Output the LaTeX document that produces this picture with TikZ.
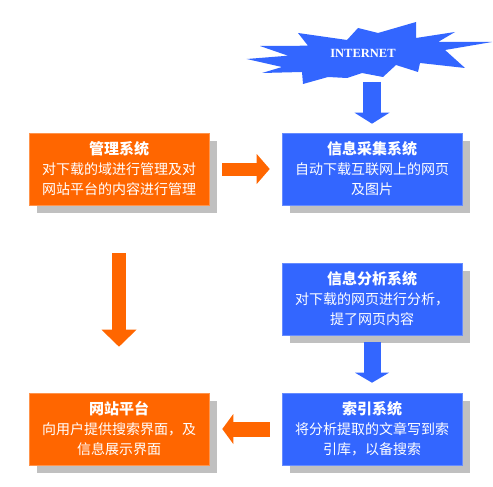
\documentclass[tikz,border=0pt]{standalone}
\usepackage{fontspec}
\setmainfont{Noto Sans CJK SC}
\newfontfamily\latinserif{Liberation Serif}
\usetikzlibrary{arrows.meta,shadows}
\definecolor{orng}{HTML}{FF6600}
\definecolor{blu}{HTML}{3366FF}
\definecolor{shd}{HTML}{C0C0C0}
\newcommand{\ttl}[1]{{\fontsize{15}{20}\selectfont\bfseries #1}}
\begin{document}
\begin{tikzpicture}[x=1pt,y=-1pt,
  box/.style={minimum width=180pt,minimum height=72pt,inner sep=0pt,align=center,
    text=white,font=\fontsize{14}{20}\selectfont,line width=0.6pt,
    general shadow={shadow xshift=8pt,shadow yshift=-8pt,fill=shd}},
  obox/.style={box,fill=orng,draw=orng!70!white},
  bbox/.style={box,fill=blu,draw=blu!75!white},
  fat/.style n args={3}{line width=#1,-{Triangle[width=#2,length=#3,line width=0pt]}}]
\useasboundingbox (0,0) rectangle (493,487);
% starburst
\fill[blu] (246.7,59) -- (288,55.7) -- (260,46) -- (308,45.7) -- (298,33) -- (347,40)
  -- (358,28) -- (378,33) -- (416,22) -- (416,38) -- (455,32) -- (438,42) -- (492,42)
  -- (445,50) -- (465,68) -- (420,63) -- (418,72) -- (396,65) -- (383,77) -- (362,73)
  -- (347,78) -- (328,77) -- (303,84) -- (302,72) -- (262,73) -- (282,67) -- cycle;
\node[text=white,font=\latinserif\bfseries\fontsize{12.5}{15}\selectfont] (inettext) at (363,53) {INTERNET};
\coordinate (inet) at (372,82);
% boxes
\node[obox] (mgmt) at (119,169) {\ttl{管理系统}\\对下载的域进行管理及对\\网站平台的内容进行管理};
\node[bbox] (collect) at (372,169) {\ttl{信息采集系统}\\自动下载互联网上的网页\\及图片};
\node[bbox] (analysis) at (372,299) {\ttl{信息分析系统}\\对下载的网页进行分析，\\提了网页内容};
\node[bbox] (index) at (372,429) {\ttl{索引系统}\\将分析提取的文章写到索\\引库，以备搜索};
\node[obox] (web) at (119,429) {\ttl{网站平台}\\向用户提供搜索界面，及\\信息展示界面};
% arrows
\draw[fat={18pt}{35pt}{11pt},draw=blu,fill=blu,shorten >=9pt] (inet) -- (collect.north);
\draw[fat={13pt}{30pt}{13pt},draw=orng,fill=orng,shorten <=13pt,shorten >=12pt] (mgmt.east) -- (collect.west);
\draw[fat={14pt}{35pt}{17pt},draw=orng,fill=orng,shorten <=48pt,shorten >=46pt] (mgmt.south) -- (web.north);
\draw[fat={17pt}{34pt}{10pt},draw=blu,fill=blu,shorten <=7pt,shorten >=10pt] (analysis.south) -- (index.north);
\draw[fat={15pt}{30pt}{11pt},draw=orng,fill=orng,shorten <=12pt,shorten >=13pt] (index.west) -- (web.east);
\end{tikzpicture}
\end{document}
